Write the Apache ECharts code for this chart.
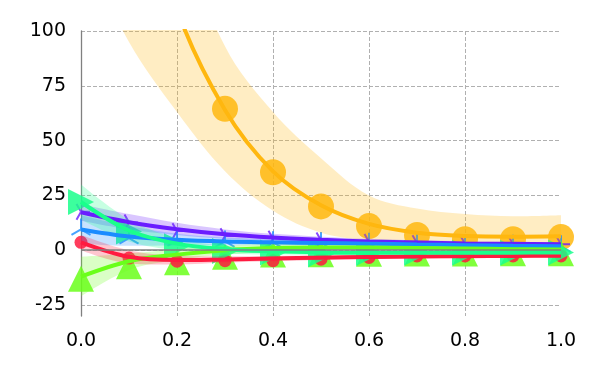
<!DOCTYPE html>
<html>
<head>
<meta charset="utf-8">
<script src="https://cdn.jsdelivr.net/npm/echarts/dist/echarts.min.js"></script>
<style>
  html, body { margin: 0; padding: 0; background: #fff; }
  #chart { width: 600px; height: 375px; }
</style>
</head>
<body>
<div id="chart"></div>
<script>
// x positions
var xs = ['0.0', '0.1', '0.2', '0.3', '0.4', '0.5', '0.6', '0.7', '0.8', '0.9', '1.0']
var yTicks = [-25, 0, 25, 50, 75, 100]

// orange (circles)
var orangeFit = [330, 190, 110, 64, 36, 20.5, 12, 8, 6.5, 6.2, 6.4]
var orangeMean = [330, 190, 110, 64.5, 35.6, 20, 11, 7, 5, 5, 6]
var orangeHi = [450, 260, 150, 93, 63, 42, 25, 19, 16.5, 15.5, 16]
var orangeLo = [140, 95, 63, 36, 18, 8, 4.5, 3, 2, 2, 2.5]

// purple (tri right)
var purpleFit = [17.3, 12.8, 9.6, 7.3, 5.8, 4.8, 4, 3.5, 3.1, 2.9, 2.7]
var purpleMean = [17.5, 12.7, 8.8, 6.5, 5.3, 4.5, 3.8, 3.3, 3, 2.8, 2.7]
var purpleHi = [21, 16.5, 12.5, 9.5, 7.5, 6.2, 5.2, 4.5, 4, 3.7, 3.5]
var purpleLo = [13.5, 9.5, 7, 5.2, 4.2, 3.5, 3, 2.6, 2.3, 2.1, 2]

// blue (tri up)
var blueFit = [9.5, 6.3, 4.8, 4, 3.6, 3.3, 3, 2.6, 2.3, 2, 1.8]
var blueMean = [9.5, 5.5, 4.5, 4, 3.6, 3.3, 3, 2.6, 2.3, 2, 1.8]
var blueHi = [16, 11, 7.5, 5.8, 5, 4.4, 3.9, 3.4, 3, 2.7, 2.5]
var blueLo = [3, 2, 2.2, 2.3, 2.3, 2.2, 2, 1.8, 1.5, 1.3, 1.1]

// lime (triangle up)
var limeFit = [-12, -5, -2, 0, 1, 1.3, 1.2, 1, 0.8, 0.5, 0.3]
var limeMean = [-13, -7.3, -5.5, -3, -2, -1.8, -1.6, -1.5, -1.5, -1.4, -1.4]
var limeHi = [-3, -1.5, 0.5, 2, 2.8, 2.8, 2.6, 2.3, 2, 1.7, 1.5]
var limeLo = [-21, -9, -4.5, -2, -0.8, -0.3, -0.2, -0.3, -0.4, -0.7, -0.9]

// red (circles)
var redFit = [3.6, -3, -4.5, -4.2, -3.8, -3.4, -3.1, -2.9, -2.7, -2.6, -2.5]
var redMean = [3.6, -3.6, -5, -4.8, -4.8, -4.1, -3.3, -2.6, -2.6, -2.6, -2.6]
var redHi = [7, 0, -2.5, -2.8, -2.6, -2.4, -2.2, -2, -1.9, -1.8, -1.8]
var redLo = [0, -6, -6.5, -5.6, -5, -4.4, -4, -3.7, -3.5, -3.4, -3.3]

// spring green (triangle right)
var greenFit = [22, 9, 3, 0.5, -0.5, -1, -1.2, -1.2, -1.1, -1.1, -1]
var greenMean = [22, 8.6, 1.8, -0.3, -1, -1.8, -1.3, -1.2, -1.2, -1.1, -1]
var greenHi = [30, 14, 5.5, 2, 0.5, -0.2, -0.4, -0.4, -0.4, -0.4, -0.3]
var greenLo = [14, 4, 0, -1.5, -2, -2.2, -2.2, -2.1, -2, -2, -1.9]

var C_ORANGE = '#ffb70f'
var C_PURPLE = '#6a1cff'
var C_BLUE = '#1a8cff'
var C_LIME = '#6aff1a'
var C_RED = '#ff1a40'
var C_GREEN = '#1aff8c'

// stroke-only tri markers (extra points keep the centre in place)
var TRI_RIGHT = 'path://M0 0L10 0M0 0L-5 -8.66M0 0L-5 8.66M-10 -10L-10 -10M10 10L10 10'
var TRI_UP = 'path://M0 0L0 -10M0 0L-8.66 5M0 0L8.66 5M-10 -10L-10 -10M10 10L10 10'

// band = invisible lower line + stacked difference filled
function band(key, lo, hi, color, opacity) {
  var diff = hi.map(function (v, i) { return v - lo[i] })
  return [{
    type: 'line', stack: key, stackStrategy: 'all', smooth: 0.35,
    data: lo, symbol: 'none', lineStyle: { opacity: 0 }, silent: true
  }, {
    type: 'line', stack: key, stackStrategy: 'all', smooth: 0.35,
    data: diff, symbol: 'none', lineStyle: { opacity: 0 }, silent: true,
    areaStyle: { color: color, opacity: opacity }
  }]
}

function fit(vals, color) {
  return {
    type: 'line', data: vals, smooth: 0.35, symbol: 'none',
    lineStyle: { color: color, width: 4 }, silent: true
  }
}

function marks(vals, color, symbol, size, opts) {
  var s = {
    type: 'scatter', data: vals, symbol: symbol, symbolSize: size,
    itemStyle: { color: color, opacity: 0.85 }, silent: true
  }
  return Object.assign(s, opts || {})
}

var series = [].concat(
  band('o', orangeLo, orangeHi, C_ORANGE, 0.25),
  band('p', purpleLo, purpleHi, C_PURPLE, 0.25),
  band('b', blueLo, blueHi, C_BLUE, 0.25),
  band('l', limeLo, limeHi, C_LIME, 0.25),
  band('r', redLo, redHi, C_RED, 0.25),
  band('g', greenLo, greenHi, C_GREEN, 0.25),
  [
    fit(orangeFit, C_ORANGE),
    fit(purpleFit, C_PURPLE),
    fit(blueFit, C_BLUE),
    fit(limeFit, C_LIME),
    fit(redFit, C_RED),
    fit(greenFit, C_GREEN),
    marks(orangeMean, C_ORANGE, 'circle', 26),
    marks(purpleMean, C_PURPLE, TRI_RIGHT, 18, {
      itemStyle: { color: 'transparent', borderColor: C_PURPLE, borderWidth: 2 }
    }),
    marks(blueMean, C_BLUE, TRI_UP, 22, {
      itemStyle: { color: 'transparent', borderColor: C_BLUE, borderWidth: 2 }
    }),
    marks(limeMean, C_LIME, 'triangle', 26),
    marks(redMean, C_RED, 'circle', 13),
    marks(greenMean, C_GREEN, 'triangle', 26, { symbolRotate: -90 })
  ]
)

// zero line
series[0].markLine = {
  silent: true, symbol: 'none', label: { show: false },
  lineStyle: { color: '#808080', type: 'solid', width: 1.5 },
  data: [{ yAxis: 0 }]
}

var chart = echarts.init(document.getElementById('chart'))
chart.setOption({
  animation: false,
  grid: { left: 81, right: 39, top: 31, bottom: 59 },
  xAxis: {
    type: 'category', data: xs, boundaryGap: false,
    axisLine: { show: false },
    axisTick: { show: false, interval: 1 },
    axisLabel: {
      interval: 1,
      fontFamily: 'DejaVu Sans', fontSize: 19, color: '#000', margin: 16
    },
    splitLine: {
      show: true, interval: 1, showMaxLine: false,
      lineStyle: { color: '#b0b0b0', type: [4, 2], width: 1 }
    }
  },
  yAxis: {
    type: 'value', min: -30, max: 100,
    axisLine: { show: true, lineStyle: { color: '#808080', width: 1.3 } },
    axisTick: { show: false, customValues: yTicks },
    axisLabel: {
      customValues: yTicks,
      fontFamily: 'DejaVu Sans', fontSize: 19, color: '#000', margin: 15,
      padding: [4, 0, 0, 0]
    },
    splitLine: {
      show: true,
      lineStyle: { color: '#b0b0b0', type: [4, 2], width: 1 }
    }
  },
  series: series
})
</script>
</body>
</html>
